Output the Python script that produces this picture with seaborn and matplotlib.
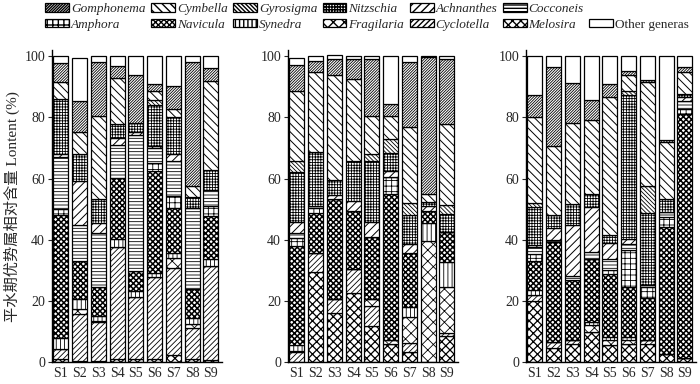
import matplotlib.pyplot as plt
import matplotlib.patches as mpatches
import numpy as np
import pandas as pd
import seaborn as sns

samples = ['S1', 'S2', 'S3', 'S4', 'S5', 'S6', 'S7', 'S8', 'S9']

# relative content (%), panel 1 S1-S9, panel 2 S1-S9, panel 3 S1-S9
melosira = [1, 0.5, 0.5, 1.1, 1.1, 1.1, 2.5, 1.1, 0.9,
            0, 29.4, 16, 22.7, 12, 6, 3.3, 0, 8.7,
            20.1, 4.8, 6.2, 10, 5.7, 6, 6, 2.9, 1.6]
cyclotella = [3.5, 15.3, 12.6, 36.7, 20.4, 26.7, 28.5, 10.3, 30.7,
              3.3, 6.3, 4.7, 7.8, 6.5, 0, 3.2, 0, 0.8,
              1.9, 1.9, 1.1, 0, 0, 0, 1.5, 0, 0]
fragilaria = [0, 1.6, 0.5, 0, 0, 0, 3.1, 1.1, 0,
              0.5, 0, 0, 0, 2.2, 1.5, 8.5, 39.8, 15.2,
              0, 0, 0, 2.2, 1.8, 1.5, 0, 0, 0]
synedra = [3.5, 3.3, 1.7, 2.5, 1.7, 1.3, 1.8, 2, 2.2,
           2, 0, 0, 0, 0, 0, 3.2, 5.7, 8,
           1.6, 0, 0, 1.1, 0.7, 0.7, 0, 0, 0]
navicula = [40, 12.5, 9.2, 19.9, 6.8, 33.3, 14.5, 9.5, 14.1,
            32.1, 13.1, 32.7, 19.1, 20.1, 47.5, 17.7, 4.1, 9.8,
            9.6, 32.5, 19.5, 20.6, 20.8, 16.3, 13.7, 41.3, 79.6]
amphora = [2, 0, 0, 0, 0, 2.6, 3.8, 0, 3.3,
           2.7, 1.6, 0, 0, 0, 5.5, 0, 0, 0,
           2.3, 0, 0, 0, 1.3, 12.1, 3.5, 3.3, 1.6]
cocconeis = [17, 11.8, 17.7, 10.8, 44.1, 5, 11.7, 26.4, 5.1,
             1.6, 0.8, 0, 0, 0, 0, 0, 0, 0,
             2.2, 0.7, 1.4, 2.2, 3.6, 2, 0.5, 1.6, 2.7]
achnanthes = [1, 14.4, 3.2, 2.3, 1.1, 0.8, 2.2, 0, 0,
              3.6, 0, 1.4, 3, 5, 1.9, 2.8, 1.6, 0,
              0.5, 4, 16.6, 14.7, 5.1, 1.6, 0, 0, 1.1]
nitzschia = [18, 8.6, 8, 4.4, 2.9, 13.1, 12, 3.5, 6.6,
             16.5, 17.4, 4.8, 13.3, 19.9, 5.9, 9.6, 1.1, 6,
             12.6, 4.3, 6.8, 4.1, 2.5, 47, 23.6, 4.4, 1]
gyrosigma = [0, 0, 0, 0, 0, 1.8, 0, 0, 0,
             3.6, 0, 0, 0, 2.4, 4.7, 3.7, 0, 3,
             1.1, 0, 0, 0, 0, 1.4, 8.7, 0, 0]
cymbella = [5.7, 7.1, 27.2, 15.2, 0, 2.9, 2.7, 3.8, 28.9,
            22.7, 26.2, 34.1, 26.7, 12.2, 7.6, 24.8, 2.7, 26.4,
            28.2, 22.4, 26.6, 24.3, 45.1, 5.1, 34, 18.5, 7.2]
gomphonema = [6, 10.3, 17.4, 3.8, 15.9, 2.4, 7.4, 40.3, 4.4,
              8.4, 3.6, 5.4, 6.3, 18.8, 3.8, 21.2, 44.7, 21,
              7.3, 26, 13.1, 6.6, 4.4, 1.6, 0.8, 0.7, 1.6]
other = [2.3, 14, 2, 3.3, 6, 9, 9.8, 2, 3.8,
         2.5, 1.6, 1.4, 1.1, 0.9, 15.6, 2, 0.3, 1.1,
         12.6, 3.6, 8.7, 14.2, 9, 4.7, 7.7, 27.3, 3.6]

# stacking order, bottom to top
genera = ['Melosira', 'Cyclotella', 'Fragilaria', 'Synedra', 'Navicula', 'Amphora',
          'Cocconeis', 'Achnanthes', 'Nitzschia', 'Gyrosigma', 'Cymbella',
          'Gomphonema', 'Other generas']
series = [melosira, cyclotella, fragilaria, synedra, navicula, amphora,
          cocconeis, achnanthes, nitzschia, gyrosigma, cymbella, gomphonema, other]
hatches = ['xxxx', '//////', 'xxx', '||||', 'xxxxxx', '+++',
           '-----', '////', '++++++', '\\\\\\\\\\\\\\\\', '\\\\\\\\', '////////////', '']
hatch_lw = [0.9, 0.6, 0.6, 0.6, 1.1, 0.6, 0.6, 0.7, 0.6, 0.6, 0.7, 0.6, 0.6]
hatch_of = dict(zip(genera, hatches))
lw_of = dict(zip(genera, hatch_lw))

sns.set_style("ticks")
plt.rcParams['font.family'] = ['Liberation Serif', 'Noto Sans CJK SC']
plt.rcParams['axes.edgecolor'] = 'black'

fig = plt.figure(figsize=(7, 3.84), dpi=100)
lefts = [52/700, 288/700, 526/700]
axes = [fig.add_axes([l, 0.056, 0.2424, 0.8138]) for l in lefts]

for k, ax in enumerate(axes):
    base = np.zeros(9)
    for name, vals in zip(genera, series):
        v = np.array(vals[9*k:9*k+9], dtype=float)
        df = pd.DataFrame({'sample': samples, 'value': v})
        with plt.rc_context({'hatch.linewidth': lw_of[name]}):
            sns.barplot(data=df, x='sample', y='value', bottom=base, ax=ax,
                        color='white', edgecolor='black', hatch=hatch_of[name],
                        linewidth=0.9, width=0.8, saturation=1, errorbar=None)
        base = base + v
    ax.set_xlim(-0.47, 8.58)
    ax.set_ylim(0, 102)
    ax.set_yticks([0, 20, 40, 60, 80, 100])
    ax.set_xlabel('')
    ax.set_ylabel('')
    ax.tick_params(axis='y', direction='out', length=3, width=0.8, labelsize=10, pad=2)
    ax.tick_params(axis='x', length=0, labelsize=10, pad=3)
    sns.despine(ax=ax)
    for s in ['left', 'bottom']:
        ax.spines[s].set_linewidth(1.0)

axes[0].set_ylabel('平水期优势属相对含量 Lontent (%)', fontsize=11, labelpad=3)

# legend, laid out as in the original (two rows)
legend_order = ['Gomphonema', 'Amphora', 'Cymbella', 'Navicula', 'Gyrosigma', 'Synedra',
                'Nitzschia', 'Fragilaria', 'Achnanthes', 'Cyclotella', 'Cocconeis',
                'Melosira', None, 'Other generas']
handles, labels = [], []
for name in legend_order:
    if name is None:
        handles.append(mpatches.Patch(facecolor='none', edgecolor='none'))
        labels.append('')
    else:
        with plt.rc_context({'hatch.linewidth': lw_of[name]}):
            handles.append(mpatches.Patch(facecolor='white', edgecolor='black',
                                          hatch=hatch_of[name], linewidth=0.9))
        labels.append(name)
leg = fig.legend(handles, labels, ncol=7, loc='upper left', bbox_to_anchor=(42/700, 1.0),
                 frameon=False, fontsize=9.5, handlelength=1.8, handleheight=0.6,
                 handletextpad=0.15, columnspacing=0.42, labelspacing=0.25,
                 borderpad=0.25, borderaxespad=0)
for t in leg.get_texts():
    if t.get_text() not in ('', 'Other generas'):
        t.set_style('italic')

plt.savefig('out.png', dpi=100)
